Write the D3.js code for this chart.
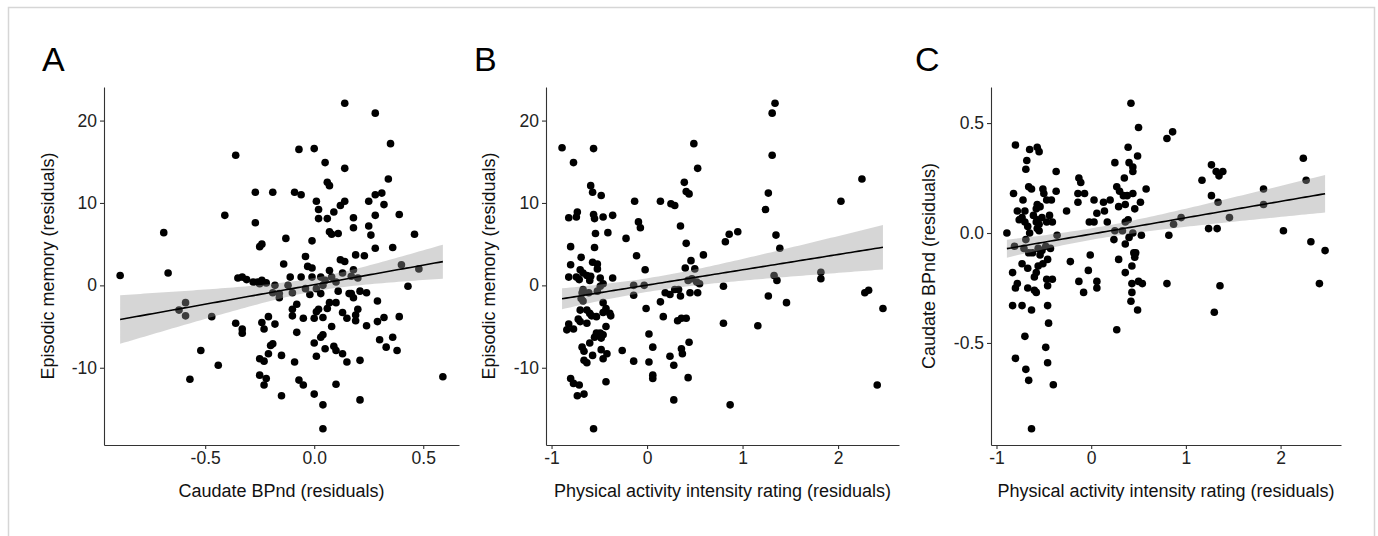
<!DOCTYPE html>
<html>
<head>
<meta charset="utf-8">
<script src="https://cdn.jsdelivr.net/npm/d3@7"></script>
<style>
  body { margin: 0; background: #fff; }
  text { font-family: "Liberation Sans", Arial, sans-serif; }
</style>
</head>
<body>
<svg id="fig" width="1378" height="536"></svg>
<script>
(function () {

    // panel A: caudate BPnd vs episodic memory
    var caudateA = [-0.89,-0.69,-0.67,-0.62,-0.59,-0.59,-0.57,-0.52,-0.47,-0.44,
        -0.41,-0.36,-0.36,-0.35,-0.33,-0.33,-0.33,-0.31,-0.28,-0.27,
        -0.27,-0.26,-0.25,-0.25,-0.25,-0.24,-0.24,-0.25,-0.24,-0.23,
        -0.23,-0.23,-0.22,-0.22,-0.21,-0.21,-0.20,-0.19,-0.19,-0.18,
        -0.18,-0.19,-0.16,-0.16,-0.14,-0.15,-0.15,-0.13,-0.12,-0.11,
        -0.10,-0.10,-0.10,-0.09,-0.09,-0.08,-0.08,-0.07,-0.07,-0.06,
        -0.06,-0.05,-0.05,-0.04,-0.04,-0.03,-0.02,-0.01,-0.01,-0.01,
        0.00,0.00,0.00,0.00,0.01,0.01,0.01,0.01,0.02,0.02,
        0.02,0.03,0.03,0.03,0.04,0.04,0.04,0.04,0.04,0.05,
        0.05,0.06,0.05,0.06,0.06,0.07,0.07,0.07,0.07,0.08,
        0.08,0.08,0.09,0.09,0.10,0.10,0.10,0.10,0.11,0.11,
        0.12,0.12,0.13,0.13,0.13,0.14,0.14,0.14,0.14,0.15,
        0.15,0.16,0.17,0.17,0.18,0.18,0.18,0.18,0.19,0.19,
        0.19,0.20,0.20,0.21,0.21,0.21,0.23,0.24,0.24,0.25,
        0.25,0.26,0.28,0.28,0.28,0.28,0.29,0.29,0.30,0.31,
        0.32,0.32,0.33,0.34,0.35,0.36,0.36,0.38,0.39,0.39,
        0.40,0.43,0.46,0.48,0.59];
    var memoryA = [1.2,6.4,1.5,-3.0,-2.1,-3.7,-11.4,-7.9,-3.8,-9.7,
        8.5,15.8,-4.6,0.9,1.0,-5.3,-5.8,0.7,0.4,11.3,
        7.6,0.4,4.7,0.2,-8.9,0.6,5.0,-10.9,-4.5,-5.3,
        -9.2,-12.1,0.3,-11.3,-8.3,-3.8,-7.3,11.3,-7.1,-4.7,
        0,-0.9,-1.5,-1.0,2.6,-8.5,-13.4,5.7,0,1.0,
        -0.9,-2.9,-3.7,-9.3,11.3,-2.3,-5.7,16.5,-11.5,1.0,
        11.0,-12.1,-4.0,3.5,-0.4,2.3,-1.1,2.1,5.4,1.0,
        -13.2,-7.0,16.6,-4.0,-0.4,10.2,-3.2,-8.6,9.2,-2.9,
        8.1,-1.0,-6.3,1.0,-14.5,-17.4,-3.9,0,-6.0,14.9,
        -7.7,8.1,0.6,-2.8,12.5,12.1,1.8,6.5,-2.1,6.2,
        -5.0,1.0,8.9,-7.4,-7.9,-12.0,0.4,-2.1,-0.7,6.3,
        3.1,9.7,1.5,-8.3,-3.3,2.9,22.1,14.2,10.2,-4.0,
        -9.3,-1.0,1.1,-1.0,8.2,1.9,7.0,-1.5,-4.3,-3.6,
        3.7,-2.9,0.9,-9.1,-0.7,-13.9,3.6,-0.9,-4.9,10.2,
        7.2,6.1,20.9,8.5,4.5,11.0,-1.9,-4.4,-6.6,11.2,
        -3.9,9.8,-7.5,12.9,17.2,4.6,-6.3,-7.9,8.6,-3.8,
        2.5,-0.1,6.2,2.0,-11.1];

    // panel B: physical activity vs episodic memory
    var activityB = [-0.89,-0.77,-0.56,-0.59,-0.57,-0.48,-0.82,-0.73,-0.74,-0.56,
        -0.55,-0.46,-0.36,-0.41,-0.54,-0.80,-0.55,-0.69,-0.57,-0.52,
        -0.80,-0.52,-0.70,-0.67,-0.63,-0.59,-0.82,-0.74,-0.71,-0.60,
        -0.49,-0.36,-0.46,-0.67,-0.68,-0.61,-0.52,-0.49,-0.67,-0.69,
        -0.46,-0.70,-0.63,-0.60,-0.58,-0.53,-0.43,-0.46,-0.39,-0.38,
        -0.72,-0.70,-0.63,-0.43,-0.82,-0.84,-0.77,-0.53,-0.49,-0.46,
        -0.55,-0.48,-0.60,-0.68,-0.66,-0.48,-0.42,-0.57,-0.46,-0.66,
        -0.63,-0.80,-0.77,-0.71,-0.43,-0.73,-0.66,-0.56,-0.26,-0.22,
        -0.14,-0.13,-0.11,-0.14,-0.14,-0.09,-0.07,-0.03,-0.02,-0.01,
        0.02,0.02,0.06,0.06,0.06,0.14,0.14,0.17,0.19,0.24,
        0.24,0.25,0.29,0.28,0.28,0.29,0.32,0.33,0.35,0.35,
        0.36,0.37,0.36,0.39,0.40,0.41,0.41,0.41,0.43,0.43,
        0.44,0.44,0.45,0.46,0.47,0.49,0.50,0.52,0.53,0.53,
        0.55,0.59,0.80,0.80,0.82,0.86,0.87,0.95,1.16,1.24,
        1.27,1.27,1.31,1.34,1.31,1.33,1.35,1.36,1.39,1.46,
        1.82,1.82,2.03,2.25,2.28,2.32,2.41,2.47];
    var memoryB = [16.7,14.9,16.6,12.1,11.3,10.9,8.2,8.9,8.3,8.6,
        8.1,8.3,8.5,6.4,6.3,4.7,4.6,3.4,2.8,2.6,
        2.5,2.0,1.9,1.5,1.2,1.1,1.0,1.0,0.7,0.6,
        0.9,0.9,0.2,-0.5,-0.9,-0.9,-0.7,-0.1,-1.9,-1.6,
        -2.1,-3.0,-3.0,-3.4,-3.7,-3.8,-2.8,-3.3,-3.4,-3.7,
        -4.1,-4.4,-4.6,-5.0,-4.7,-5.4,-5.3,-5.8,-5.8,-6.0,
        -6.3,-6.4,-7.0,-7.5,-8.0,-7.8,-8.3,-8.5,-8.9,-9.1,
        -9.4,-11.3,-11.9,-12.1,-11.7,-13.4,-13.2,-17.4,-7.9,5.7,
        -9.2,10.2,3.6,0,-1.2,7.7,7.0,0,1.9,-2.8,
        -5.9,-9.3,-7.5,-10.9,-11.3,10.2,-2.0,-3.8,-0.9,-1.1,
        -8.6,9.9,9.7,-9.7,-13.9,-0.5,-4.3,-0.5,7.2,-1.3,
        -7.7,-8.3,-4.0,12.5,2.1,-4.0,5.1,11.4,0.6,-11.2,
        11.1,-6.9,-0.9,3.0,0.8,17.2,2.0,0.4,14.2,-0.9,
        0.2,3.7,-0.1,-4.6,5.3,6.2,-14.5,6.5,-4.9,9.2,
        11.2,-1.3,20.9,22.1,15.8,1.2,6.1,0.6,4.5,-2.1,
        1.6,0.8,10.2,12.9,-0.9,-0.6,-12.1,-2.8];

    // panel C: physical activity vs caudate BPnd
    var activityC = [-0.89,-0.80,-0.82,-0.72,-0.78,-0.70,-0.76,-0.73,-0.68,-0.69,
        -0.65,-0.66,-0.63,-0.70,-0.67,-0.65,-0.69,-0.81,-0.71,-0.66,
        -0.62,-0.73,-0.67,-0.83,-0.78,-0.80,-0.67,-0.60,-0.58,-0.83,
        -0.73,-0.63,-0.70,-0.80,-0.69,-0.66,-0.63,-0.57,-0.55,-0.51,
        -0.50,-0.47,-0.42,-0.37,-0.37,-0.58,-0.57,-0.54,-0.61,-0.57,
        -0.58,-0.55,-0.52,-0.47,-0.44,-0.41,-0.57,-0.55,-0.36,-0.56,
        -0.52,-0.48,-0.43,-0.54,-0.46,-0.51,-0.56,-0.58,-0.60,-0.47,
        -0.41,-0.46,-0.46,-0.45,-0.48,-0.46,-0.40,-0.26,-0.22,-0.13,
        -0.11,-0.14,-0.14,-0.07,-0.13,-0.08,-0.03,-0.01,-0.02,0.03,
        0.03,0.06,0.06,0.06,0.13,0.14,0.17,0.20,0.25,0.25,
        0.24,0.27,0.27,0.29,0.29,0.30,0.33,0.34,0.35,0.36,
        0.36,0.36,0.36,0.38,0.39,0.39,0.40,0.40,0.42,0.42,
        0.43,0.43,0.43,0.44,0.44,0.44,0.44,0.45,0.46,0.46,
        0.47,0.49,0.49,0.50,0.50,0.52,0.53,0.54,0.58,0.80,
        0.86,0.80,0.82,0.87,0.95,1.17,1.24,1.27,1.27,1.32,
        1.33,1.34,1.35,1.39,1.30,1.36,1.46,1.82,1.82,2.03,
        2.24,2.27,2.32,2.41,2.47];
    var caudateC = [0.00,0.40,0.18,0.15,0.10,0.10,0.06,0.07,0.33,0.29,
        0.38,0.21,0.20,0.05,0.03,0.00,-0.03,-0.06,-0.07,-0.09,
        -0.09,-0.14,-0.16,-0.18,-0.23,-0.25,-0.25,-0.26,-0.27,-0.33,
        -0.33,-0.35,-0.47,-0.57,-0.62,-0.67,-0.89,0.39,0.37,0.20,
        0.18,0.15,0.15,0.19,0.28,0.11,0.13,0.12,0.08,0.06,
        0.05,0.04,0.07,0.05,0.08,0.05,0.02,0.01,-0.01,-0.07,
        -0.08,-0.06,-0.07,-0.10,-0.12,-0.14,-0.15,-0.18,-0.20,-0.21,
        -0.21,-0.24,-0.33,-0.41,-0.52,-0.59,-0.69,0.10,-0.13,0.25,
        0.23,0.18,0.14,0.18,-0.22,-0.27,-0.17,-0.10,0.05,0.05,
        0.15,0.09,-0.22,-0.25,0.14,0.10,0.05,0.15,0.32,0.01,
        -0.03,0.21,-0.44,0.12,-0.12,0.19,0.01,0.17,0.25,0.13,
        0.05,-0.05,-0.18,0.17,0.39,0.06,0.32,-0.02,-0.31,0.59,
        -0.15,-0.23,-0.27,0.30,0.28,0.18,0.00,-0.09,-0.11,0.11,
        -0.09,0.35,-0.35,0.48,-0.22,0.14,-0.01,-0.23,0.20,0.43,
        0.46,-0.23,-0.01,0.04,0.07,0.24,0.02,0.31,0.17,0.28,
        0.02,0.14,0.26,0.28,-0.36,-0.24,0.07,0.20,0.13,0.01,
        0.34,0.24,-0.04,-0.23,-0.08];

    var ticksCaudate = [-0.5, 0, 0.5],
        ticksMemory = [-10, 0, 10, 20],
        ticksActivity = [-1, 0, 1, 2];

    var letters = ["A", "B", "C"];
    var xTitles = ["Caudate BPnd (residuals)",
        "Physical activity intensity rating (residuals)",
        "Physical activity intensity rating (residuals)"];
    var yTitles = ["Episodic memory (residuals)",
        "Episodic memory (residuals)",
        "Caudate BPnd (residuals)"];

    // ggplot style hyphen minus
    var locale = d3.formatLocale({decimal: ".", thousands: ",", grouping: [3],
        currency: ["", ""], minus: "-"});

    // band width multiplier, tuned so the ribbon matches the printed one
    var bandK = 1.38;

    var panels = [
        {xs: caudateA, ys: memoryA, xTicks: ticksCaudate, yTicks: ticksMemory,
         xFmt: ".1f", yFmt: "d", left: 104, right: 459, letterX: 42, yTitleX: 53.5},
        {xs: activityB, ys: memoryB, xTicks: ticksActivity, yTicks: ticksMemory,
         xFmt: "d", yFmt: "d", left: 546, right: 899, letterX: 474, yTitleX: 495},
        {xs: activityC, ys: caudateC, xTicks: ticksActivity, yTicks: ticksCaudate,
         xFmt: "d", yFmt: ".1f", left: 991, right: 1341, letterX: 915, yTitleX: 935}
    ];
    var top = 87, bottom = 445;

    var svg = d3.select("#fig");

    svg.append("rect")
        .attr("width", 1378).attr("height", 536)
        .style("fill", "#fff");

    // light frame around the figure
    svg.append("rect")
        .attr("x", 8.5).attr("y", 7.5)
        .attr("width", 1366).attr("height", 560)
        .style("fill", "none")
        .style("stroke", "#d6d6d6")
        .style("stroke-width", 1.5);

    panels.forEach(function (p, i) {
        draw(p, i);
    });

    function padded(values) {
        var e = d3.extent(values), d = (e[1] - e[0]) * 0.05;
        return [e[0] - d, e[1] + d];
    }

    function fit(xs, ys) {
        var n = xs.length,
            mx = d3.mean(xs),
            my = d3.mean(ys),
            sxx = d3.sum(xs, function (x) { return (x - mx) * (x - mx); }),
            sxy = d3.sum(xs, function (x, k) { return (x - mx) * (ys[k] - my); }),
            b = sxy / sxx,
            a = my - b * mx,
            sse = d3.sum(xs, function (x, k) { var r = ys[k] - a - b * x; return r * r; }),
            s = Math.sqrt(sse / (n - 2)),
            ext = d3.extent(xs);
        return d3.range(81).map(function (k) {
            var x = ext[0] + (ext[1] - ext[0]) * k / 80,
                yh = a + b * x,
                se = s * Math.sqrt(1 / n + (x - mx) * (x - mx) / sxx);
            return {x: x, y: yh, lo: yh - bandK * se, hi: yh + bandK * se};
        });
    }

    function draw(p, i) {
        var x = d3.scaleLinear().domain(padded(p.xs)).range([p.left, p.right]),
            y = d3.scaleLinear().domain(padded(p.ys)).range([bottom, top]),
            g = svg.append("g");

        var pts = p.xs.map(function (v, k) { return [v, p.ys[k]]; });

        g.append("g").selectAll("circle")
            .data(pts)
            .enter()
            .append("circle")
            .attr("cx", function (d) { return x(d[0]); })
            .attr("cy", function (d) { return y(d[1]); })
            .attr("r", 3.8)
            .style("fill", "#000");

        var line = fit(p.xs, p.ys);

        g.append("path")
            .datum(line)
            .attr("d", d3.area()
                .x(function (d) { return x(d.x); })
                .y0(function (d) { return y(d.lo); })
                .y1(function (d) { return y(d.hi); }))
            .style("fill", "#999")
            .style("fill-opacity", 0.4);

        g.append("path")
            .datum(line)
            .attr("d", d3.line()
                .x(function (d) { return x(d.x); })
                .y(function (d) { return y(d.y); }))
            .style("fill", "none")
            .style("stroke", "#000")
            .style("stroke-width", 1.6);

        var xAxis = g.append("g")
            .attr("transform", "translate(0," + bottom + ")")
            .call(d3.axisBottom(x).tickValues(p.xTicks)
                .tickFormat(locale.format(p.xFmt))
                .tickSizeOuter(0).tickSizeInner(4).tickPadding(3));
        var yAxis = g.append("g")
            .attr("transform", "translate(" + p.left + ",0)")
            .call(d3.axisLeft(y).tickValues(p.yTicks)
                .tickFormat(locale.format(p.yFmt))
                .tickSizeOuter(0).tickSizeInner(4).tickPadding(3));

        [xAxis, yAxis].forEach(function (ax) {
            ax.select(".domain").style("stroke", "#333").style("stroke-width", 1.1);
            ax.selectAll(".tick line").style("stroke", "#333").style("stroke-width", 1.1);
            ax.selectAll(".tick text")
                .style("font-size", "17.5px")
                .style("fill", "#222")
                .style("font-family", "'Liberation Sans', Arial, sans-serif");
        });

        g.append("text")
            .attr("x", (p.left + p.right) / 2)
            .attr("y", 497)
            .style("text-anchor", "middle")
            .style("font-size", "18px")
            .style("fill", "#111")
            .text(xTitles[i]);

        g.append("text")
            .attr("transform", "translate(" + p.yTitleX + "," + (top + bottom) / 2 + ") rotate(-90)")
            .style("text-anchor", "middle")
            .style("font-size", "18px")
            .style("fill", "#111")
            .text(yTitles[i]);

        g.append("text")
            .attr("x", p.letterX)
            .attr("y", 71)
            .style("font-size", "34px")
            .style("fill", "#000")
            .text(letters[i]);
    }
}());
</script>
</body>
</html>
